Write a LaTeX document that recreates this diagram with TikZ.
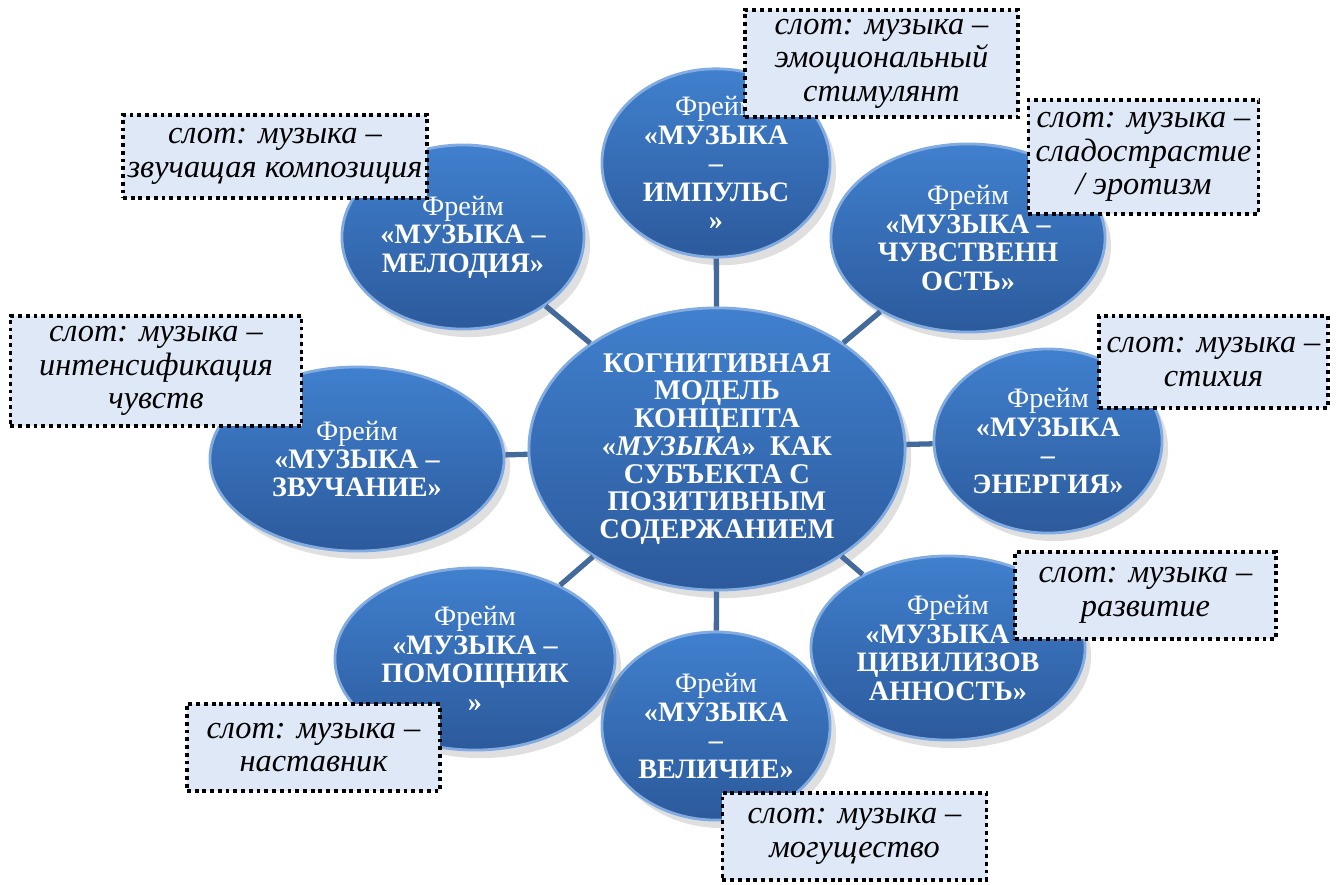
\documentclass[tikz,border=0pt]{standalone}
\usepackage{fontspec}
\setmainfont{Liberation Serif}
\usetikzlibrary{shapes.geometric, shadows}

\definecolor{frmtop}{RGB}{64,128,206}
\definecolor{frmbot}{RGB}{44,90,156}
\definecolor{frmrim}{RGB}{130,172,225}
\definecolor{slotfill}{RGB}{222,232,246}
\definecolor{linkcol}{RGB}{68,106,155}

\begin{document}
\begin{tikzpicture}[x=0.01cm, y=-0.01cm,
    frm/.style={ellipse, draw=frmrim, line width=0.8pt, top color=frmtop, bottom color=frmbot,
        text=white, align=center, inner sep=0pt, font=\bfseries\fontsize{8}{8.1}\selectfont,
        drop shadow={opacity=0.25, shadow xshift=0.6mm, shadow yshift=-0.8mm}},
    slot/.style={draw, line width=1pt, dash pattern=on 1.1pt off 1.1pt, fill=slotfill,
        align=center, inner sep=0pt, font=\itshape\fontsize{9.2}{9.5}\selectfont},
    link/.style={draw=linkcol, line width=1.5pt}
]
    \useasboundingbox (0,0) rectangle (1343,884);

    % frames round the model
    \node[frm, minimum width=2.28cm, minimum height=1.88cm] (impuls) at (716,163)
        {\textmd{Фрейм}\\«МУЗЫКА\\–\\ИМПУЛЬС\\»};
    \node[frm, minimum width=2.74cm, minimum height=1.88cm] (chuvstv) at (968,238)
        {\textmd{Фрейм}\\«МУЗЫКА –\\ЧУВСТВЕНН\\ОСТЬ»};
    \node[frm, minimum width=2.28cm, minimum height=1.84cm] (energ) at (1048,441)
        {\textmd{Фрейм}\\«МУЗЫКА\\–\\ЭНЕРГИЯ»};
    \node[frm, minimum width=2.74cm, minimum height=1.84cm] (civil) at (948,648)
        {\textmd{Фрейм}\\«МУЗЫКА –\\ЦИВИЛИЗОВ\\АННОСТЬ»};
    \node[frm, minimum width=2.28cm, minimum height=1.88cm] (velich) at (716,726)
        {\textmd{Фрейм}\\«МУЗЫКА\\–\\ВЕЛИЧИЕ»};
    \node[frm, minimum width=2.80cm, minimum height=1.82cm] (pomosh) at (475,659)
        {\textmd{Фрейм}\\«МУЗЫКА –\\ПОМОЩНИК\\»};
    \node[frm, minimum width=2.94cm, minimum height=1.84cm] (zvuch) at (357,459)
        {\textmd{Фрейм}\\«МУЗЫКА –\\ЗВУЧАНИЕ»};
    \node[frm, minimum width=2.42cm, minimum height=1.84cm] (melod) at (463,237)
        {\textmd{Фрейм}\\«МУЗЫКА –\\МЕЛОДИЯ»};

    % the model itself
    \node[frm, minimum width=3.76cm, minimum height=2.82cm, font=\bfseries\fontsize{8.1}{7.9}\selectfont] (core) at (717,449)
        {КОГНИТИВНАЯ\\МОДЕЛЬ\\КОНЦЕПТА\\«\textit{МУЗЫКА}»~~КАК\\СУБЪЕКТА С\\ПОЗИТИВНЫМ\\СОДЕРЖАНИЕМ};

    \foreach \f in {impuls, chuvstv, energ, civil, velich, pomosh, zvuch, melod}
        \draw[link] (core) -- (\f);

    % slots
    \node[slot, minimum width=2.73cm, minimum height=1.07cm] (s-impuls) at (881.5,63.5)
        {слот: музыка –\\эмоциональный\\стимулянт};
    \node[slot, minimum width=2.30cm, minimum height=1.14cm] (s-chuvstv) at (1143.5,157)
        {слот: музыка –\\сладострастие\\/ эротизм};
    \node[slot, minimum width=2.29cm, minimum height=0.92cm] (s-energ) at (1213.5,362)
        {слот: музыка –\\стихия};
    \node[slot, minimum width=2.61cm, minimum height=0.87cm] (s-civil) at (1145.5,595.5)
        {слот: музыка –\\развитие};
    \node[slot, minimum width=2.64cm, minimum height=0.87cm] (s-velich) at (854.5,836.5)
        {слот: музыка –\\могущество};
    \node[slot, minimum width=2.53cm, minimum height=0.87cm] (s-pomosh) at (313.5,747.5)
        {слот: музыка –\\наставник};
    \node[slot, minimum width=2.91cm, minimum height=1.10cm] (s-zvuch) at (156,371)
        {слот: музыка –\\интенсификация\\чувств};
    \node[slot, minimum width=3.04cm, minimum height=0.83cm] (s-melod) at (275,156.5)
        {слот: музыка –\\звучащая композиция};
\end{tikzpicture}
\end{document}
